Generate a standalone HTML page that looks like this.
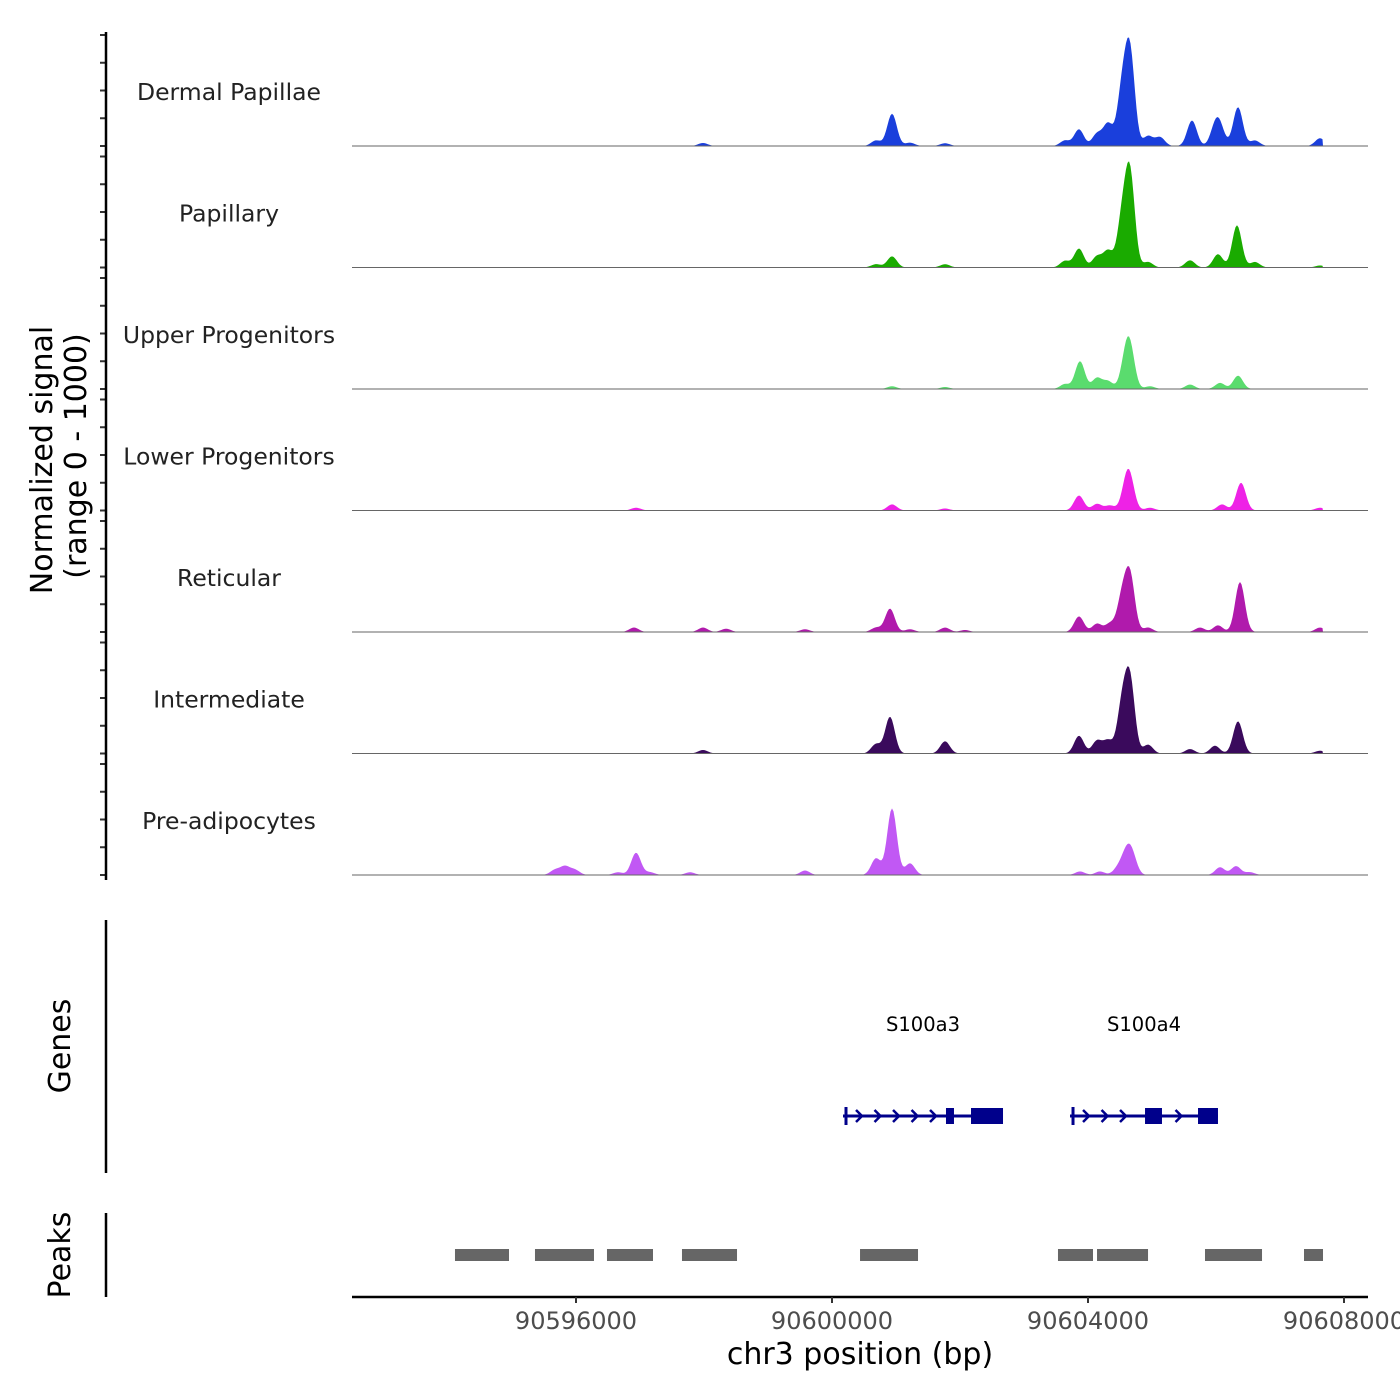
<!DOCTYPE html>
<html><head><meta charset="utf-8"><style>
html,body{margin:0;padding:0;background:#fff;}
svg{display:block;font-family:"DejaVu Sans","Liberation Sans",sans-serif;}
</style></head><body>
<svg id="chart" width="1400" height="1400" viewBox="0 0 1400 1400"></svg>
<script>
// ---- data ----
const trackNames = ["Dermal Papillae","Papillary","Upper Progenitors","Lower Progenitors","Reticular","Intermediate","Pre-adipocytes"];
const trackColors = ["#1a3fdc","#1aab00","#5adc6e","#ee22e6","#b01aac","#3a0a5c","#c158f4"];
const dpPos = [90597984,90600688,90600938,90601219,90601766,90603641,90603859,90604141,90604313,90604531,90604656,90604938,90605125,90605625,90605984,90606063,90606344,90606609,90607625];
const dpVal = [27,50,290,30,25,50,150,110,200,480,830,90,80,230,150,150,350,50,70];
const paPos = [90600688,90600938,90601766,90603641,90603859,90604141,90604313,90604531,90604656,90604938,90605594,90606031,90606328,90606609,90607625];
const paVal = [30,100,30,60,170,100,150,420,830,50,65,120,380,50,18];
const upPos = [90600938,90601766,90603641,90603875,90604141,90604313,90604578,90604656,90604969,90605594,90606063,90606344];
const upVal = [25,18,45,250,100,70,200,340,25,40,55,120];
const loPos = [90596938,90600938,90601766,90603859,90604141,90604344,90604594,90604656,90604969,90606094,90606391,90607625];
const loVal = [25,55,18,135,60,45,180,230,25,55,250,25];
const rePos = [90596906,90597984,90598344,90599578,90600688,90600906,90601219,90601766,90602078,90603859,90604141,90604344,90604531,90604656,90604938,90605750,90606031,90606375,90607625];
const reVal = [40,40,30,25,40,210,25,40,18,140,75,75,300,500,40,40,60,450,40];
const inPos = [90597984,90600688,90600906,90601766,90603859,90604141,90604313,90604531,90604656,90604938,90605594,90605984,90606344,90607625];
const inVal = [32,85,330,110,160,115,115,420,650,80,40,70,290,25];
const prPos = [90595672,90595828,90595984,90596656,90596938,90597156,90597781,90599578,90600688,90600938,90601219,90603875,90604188,90604469,90604594,90604688,90606063,90606313,90606531];
const prVal = [45,75,45,25,200,25,25,40,150,600,105,32,32,60,170,170,70,80,25];
const trackPos = [dpPos,paPos,upPos,loPos,rePos,inPos,prPos];
const trackVal = [dpVal,paVal,upVal,loVal,reVal,inVal,prVal];
const xTicks = [90596000,90600000,90604000,90608000];
const peakStarts = [90594109,90595359,90596484,90597656,90600438,90603531,90604141,90605828,90607375];
const peakEnds   = [90594953,90596281,90597203,90598516,90601344,90604078,90604938,90606719,90607672];
const geneNames = ["S100a3","S100a4"];
const geneStarts = [90600172,90603719];
const geneEnds = [90602672,90606031];
const exonStarts = [90601781,90602172,90604891,90605719];
const exonEnds = [90601906,90602672,90605156,90606031];
const signalEnd = 90607672;

// ---- scales ----
const X0=352, X1=1368, BP0=90592500, PXPERBP=0.064;
const xs = bp => X0 + (bp-BP0)*PXPERBP;
const baselines = [146,267.5,389,510.5,632,753.5,875];
const PH = 111;
const ys = (i,v) => baselines[i] - v/1000*PH;

const NS="http://www.w3.org/2000/svg";
const svg=document.getElementById('chart');
function mk(tag,attrs,parent){const e=document.createElementNS(NS,tag);for(const k in attrs)e.setAttribute(k,attrs[k]);(parent||svg).appendChild(e);return e;}

// tracks
const sigma = 75;
trackNames.forEach((name,i)=>{
  const g=mk('g',{});
  
  
  let d='M'+X0+','+baselines[i];
  for(let x=X0;x<=xs(signalEnd);x+=1.5){
    const bp=BP0+(x-X0)/PXPERBP;
    let v=0;
    trackPos[i].forEach((p,j)=>{const z=(bp-p)/sigma;v+=trackVal[i][j]*Math.exp(-0.5*z*z);});
    d+=' L'+x.toFixed(1)+','+ys(i,Math.min(v,1000)).toFixed(2);
  }
  d+=' L'+xs(signalEnd).toFixed(1)+','+baselines[i]+' Z';
  const a=mk('path',{d:d,fill:trackColors[i]},g);
  
  
  const bl=mk('line',{x1:X0,x2:X1,y1:baselines[i],y2:baselines[i],stroke:'#666','stroke-width':1},g);
  
  
  const t=mk('text',{x:229,y:baselines[i]-46,'text-anchor':'middle','font-size':23.5,fill:'#222'},g);
  t.textContent=name;
  
  
  for(let k=0;k<=4;k++){
    const yy=baselines[i]-PH*k/4;
    const tk=mk('line',{x1:100,x2:106,y1:yy,y2:yy,stroke:'#333','stroke-width':2});
    
    
  }
});
// y axis
const ya=mk('line',{x1:106,x2:106,y1:32,y2:880,stroke:'#000','stroke-width':2.5});


const yt=mk('text',{transform:'translate(52,460) rotate(-90)','text-anchor':'middle','font-size':30,fill:'#000'});
yt.textContent='Normalized signal';


const yt2=mk('text',{transform:'translate(86,456) rotate(-90)','text-anchor':'middle','font-size':30,fill:'#000'});
yt2.textContent='(range 0 - 1000)';



// genes panel
const ga=mk('line',{x1:106,x2:106,y1:920,y2:1173,stroke:'#000','stroke-width':2.5});


const gt=mk('text',{transform:'translate(70,1046) rotate(-90)','text-anchor':'middle','font-size':30,fill:'#000'});
gt.textContent='Genes';


const GY=1116, navy='#00008b';
geneNames.forEach((n,i)=>{
  const g=mk('g',{});
  
  
  const a=xs(geneStarts[i]), b=xs(geneEnds[i]);
  mk('line',{x1:a,x2:b,y1:GY,y2:GY,stroke:navy,'stroke-width':3},g);
  mk('line',{x1:a+3,x2:a+3,y1:GY-9,y2:GY+9,stroke:navy,'stroke-width':3},g);
  for(let x=a+16;x<b-10;x+=18.5){
    let inEx=false;
    for(let k=0;k<exonStarts.length;k++){if(x>xs(exonStarts[k])-6&&x<xs(exonEnds[k])+4)inEx=true;}
    if(inEx)continue;
    mk('path',{d:`M${x-3},${GY-6} L${x+3},${GY} L${x-3},${GY+6}`,stroke:navy,'stroke-width':2.5,fill:'none'},g);
  }
  const lbl=mk('text',{x:(a+b)/2,y:1031,'text-anchor':'middle','font-size':19.5,fill:'#000'},g);
  lbl.textContent=n;
});
exonStarts.forEach((s,k)=>{
  const r=mk('rect',{x:xs(s),y:GY-8,width:xs(exonEnds[k])-xs(s),height:16,fill:navy});
  
  
});

// peaks panel
const pa=mk('line',{x1:106,x2:106,y1:1213,y2:1297,stroke:'#000','stroke-width':2.5});


const pt=mk('text',{transform:'translate(70,1255) rotate(-90)','text-anchor':'middle','font-size':30,fill:'#000'});
pt.textContent='Peaks';


peakStarts.forEach((s,k)=>{
  const r=mk('rect',{x:xs(s),y:1249,width:xs(peakEnds[k])-xs(s),height:12,fill:'#666'});
  
  
});

// x axis
const xa=mk('line',{x1:X0,x2:X1,y1:1297,y2:1297,stroke:'#000','stroke-width':2.5});


xTicks.forEach(v=>{
  const x=xs(v);
  const tk=mk('line',{x1:x,x2:x,y1:1297,y2:1303,stroke:'#333','stroke-width':2});
  
  
  const t=mk('text',{x:x,y:1329,'text-anchor':'middle','font-size':24,fill:'#4d4d4d'});
  t.textContent=String(v);
  
  
});
const xt=mk('text',{x:860,y:1364,'text-anchor':'middle','font-size':30,fill:'#000'});
xt.textContent='chr3 position (bp)';


</script>
</body></html>
